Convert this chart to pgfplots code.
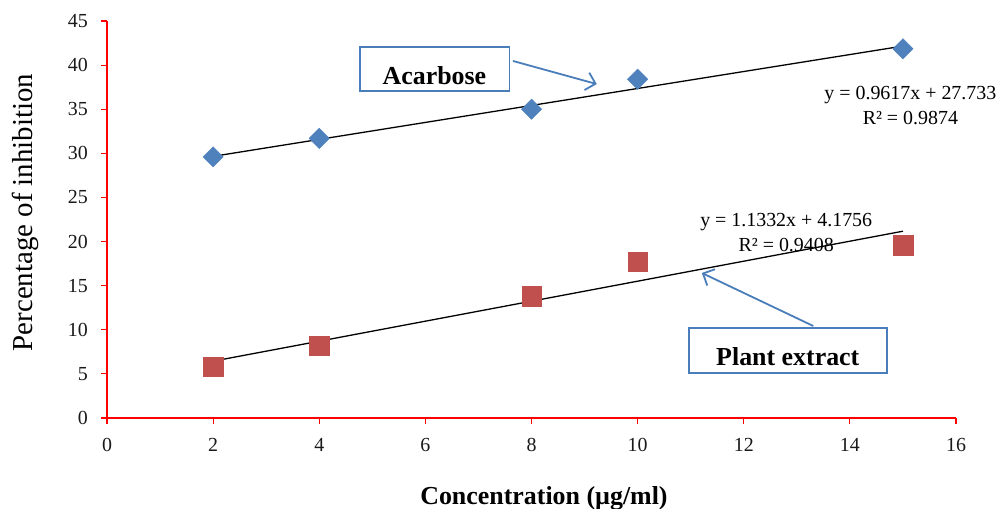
\documentclass[border=0pt]{standalone}
\usepackage{fontspec}
\setmainfont{Liberation Serif}
\usepackage{pgfplots}
\pgfplotsset{compat=1.18}
\usetikzlibrary{arrows.meta}
\definecolor{accblue}{HTML}{4F81BD}
\definecolor{plred}{HTML}{C0504D}
\definecolor{boxblue}{HTML}{4A7EBB}
\begin{document}
\begin{tikzpicture}[x=1bp,y=1bp]
\useasboundingbox (0,0) rectangle (1005,-509);
\begin{axis}[
  at={(107bp,-418bp)}, anchor=south west,
  scale only axis, width=849bp, height=397bp,
  xmin=0, xmax=16, ymin=0, ymax=45,
  axis x line*=bottom, axis y line*=left,
  axis line style={red, line width=1.3bp},
  tick style={red, line width=1.1bp},
  tick align=outside, major tick length=6bp,
  xtick={0,2,...,16}, ytick={0,5,...,45},
  tick label style={font=\fontsize{20}{20}\selectfont, text=black!90},
  /pgf/number format/assume math mode=true,
  xticklabel style={anchor=base, inner sep=0pt, yshift=-27bp},
  yticklabel style={anchor=east, inner sep=0pt, xshift=-13bp},
  xlabel={\textbf{Concentration (µg/ml)}},
  ylabel={Percentage of inhibition},
  every axis x label/.style={at={(axis description cs:0.5147,-0.219)}, anchor=base, font=\fontsize{26}{26}\selectfont},
  every axis y label/.style={at={(axis description cs:-0.0883,0.5176)}, anchor=base, rotate=90, font=\fontsize{29}{29}\selectfont},
  clip=false,
]
% Acarbose data
\addplot[only marks, mark=square*, mark size=7.2bp, mark options={rotate=45, fill=accblue, draw=accblue}]
  coordinates {(2,29.6) (4,31.7) (8,35.0) (10,38.4) (15,41.85)};
% Plant extract data
\addplot[only marks, mark=square*, mark size=9.8bp, mark options={fill=plred, draw=plred}]
  coordinates {(2,5.8) (4,8.2) (8,13.8) (10,17.7) (15,19.6)};
% Trend lines
\addplot[black, line width=1.3bp] coordinates {(2,29.657) (15,42.159)};
\addplot[black, line width=1.3bp] coordinates {(2,6.442) (15,21.174)};
% Equations
\node[font=\fontsize{20}{25}\selectfont, align=center, inner sep=0pt] at (axis cs:15.14,35.4)
  {y = 0.9617x + 27.733\\R² = 0.9874};
\node[font=\fontsize{20}{25}\selectfont, align=center, inner sep=0pt] at (axis cs:12.80,21.0)
  {y = 1.1332x + 4.1756\\R² = 0.9408};
% Callout boxes
\draw[boxblue, line width=1.4bp] (axis cs:4.77,37.07) rectangle (axis cs:7.58,42.05);
\node[font=\fontsize{26}{26}\selectfont\bfseries, inner sep=0pt] at (axis cs:6.17,38.8) {Acarbose};
\draw[boxblue, line width=1.8bp, -{Straight Barb[length=9bp,width=18bp]}] (axis cs:7.65,40.47) -- (axis cs:9.23,37.85);
\draw[boxblue, line width=1.4bp] (axis cs:10.97,5.10) rectangle (axis cs:14.70,10.20);
\node[font=\fontsize{26}{26}\selectfont\bfseries, inner sep=0pt] at (axis cs:12.83,7.0) {Plant extract};
\draw[boxblue, line width=1.8bp, -{Straight Barb[length=9bp,width=18bp]}] (axis cs:13.31,10.43) -- (axis cs:11.21,16.44);
\end{axis}
\end{tikzpicture}
\end{document}
